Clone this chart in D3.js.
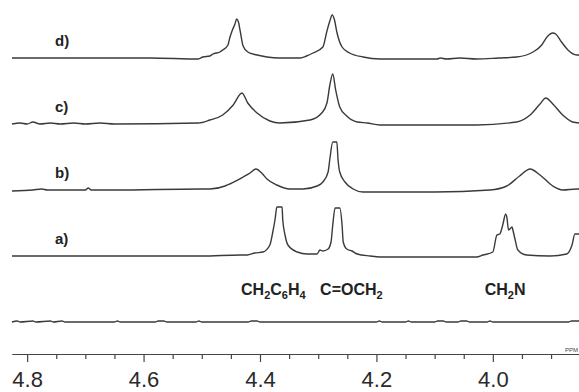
<!DOCTYPE html>
<html>
<head>
<meta charset="utf-8">
<script src="https://cdn.jsdelivr.net/npm/d3@7"></script>
<style>
  html, body { margin: 0; padding: 0; background: #fff; }
  svg { display: block; font-family: "Liberation Sans", Arial, sans-serif; }
  .trace { fill: none; stroke: #3a3a3a; stroke-width: 1.4; stroke-linejoin: round; }
  .axis path, .axis line { stroke: #444; stroke-width: 1.2; }
  .axis text { fill: #2a2a2a; font-size: 22px; }
  .tag { font-weight: bold; font-size: 15px; fill: #222; }
  .assign { font-weight: bold; font-size: 16px; fill: #222; }
</style>
</head>
<body>
<svg id="chart"></svg>
<script>
// stacked 1H NMR traces, [ppm, intensity] pairs
const specBlank = [[4.826,0],[4.817,1],[4.812,0],[4.790,1],[4.785,0],[4.760,1],[4.755,0],[4.740,1],[4.735,0],
  [4.650,0],[4.645,1],[4.640,0],[4.580,0],[4.575,1],[4.565,1],[4.560,0],[4.510,0],[4.505,1],[4.500,0],
  [4.420,0],[4.415,1],[4.405,1],[4.400,0],[4.200,0],[4.195,1],[4.190,0],[4.150,0],[4.145,1],[4.140,0],
  [4.100,0],[4.095,1],[4.085,1],[4.080,0],[4.060,0],[4.055,1],[4.045,1],[4.040,0],[4.010,0],[4.005,1],
  [4.000,0],[3.870,0],[3.865,1],[3.852,1]];

const specA = [[4.826,0],[4.700,0],[4.500,0],[4.434,1],[4.422,1],[4.409,3],[4.395,4],[4.383,11],[4.378,24],
  [4.374,37],[4.371,49],[4.362,49],[4.361,37],[4.357,21],[4.352,11],[4.336,4],[4.319,2],[4.302,2],[4.297,6],
  [4.292,5],[4.283,7],[4.278,14],[4.275,31],[4.271,48],[4.263,48],[4.259,31],[4.257,14],[4.251,7],[4.242,5],
  [4.233,2],[4.211,0],[4.194,-1],[4.028,-1],[4.017,1],[4.000,4],[3.993,21],[3.988,22],[3.983,31],[3.978,42],
  [3.976,39],[3.973,26],[3.967,29],[3.966,27],[3.962,17],[3.957,6],[3.942,1],[3.902,0],[3.873,2],[3.864,11],
  [3.859,22],[3.852,22]];

const specB = [[4.826,-1],[4.790,0],[4.775,1],[4.765,0],[4.700,0],[4.695,2],[4.690,0],[4.650,0],[4.503,1],
  [4.486,1],[4.460,4],[4.452,6],[4.429,13],[4.417,17],[4.407,21],[4.397,17],[4.388,11],[4.371,5],[4.349,1],
  [4.326,1],[4.302,4],[4.292,8],[4.283,18],[4.280,31],[4.275,48],[4.268,48],[4.266,31],[4.263,18],[4.254,8],
  [4.240,1],[4.223,-2],[4.194,-2],[4.100,-2],[4.005,0],[3.976,4],[3.954,14],[3.936,21],[3.919,15],[3.897,4],
  [3.880,0],[3.856,1],[3.852,1]];

const specC = [[4.826,0],[4.812,1],[4.800,0],[4.790,2],[4.778,0],[4.760,1],[4.743,0],[4.720,1],[4.700,0],
  [4.675,1],[4.650,0],[4.506,1],[4.486,4],[4.464,9],[4.446,19],[4.431,31],[4.421,21],[4.405,11],[4.383,3],
  [4.366,1],[4.314,4],[4.294,11],[4.285,21],[4.280,39],[4.275,50],[4.270,34],[4.263,17],[4.251,8],[4.233,2],
  [4.216,1],[4.194,-1],[4.100,-1],[4.028,-1],[3.959,2],[3.936,9],[3.919,20],[3.909,26],[3.897,20],[3.880,9],
  [3.863,2],[3.852,1]];

const specD = [[4.826,0],[4.743,0],[4.650,0],[4.589,0],[4.506,-1],[4.498,1],[4.486,2],[4.481,4],[4.469,6],
  [4.464,8],[4.455,13],[4.452,20],[4.448,27],[4.443,34],[4.440,39],[4.437,36],[4.434,27],[4.429,12],[4.421,6],
  [4.405,3],[4.388,1],[4.366,0],[4.331,0],[4.320,2],[4.309,5],[4.292,11],[4.285,27],[4.280,37],[4.276,43],
  [4.272,38],[4.268,26],[4.259,11],[4.246,5],[4.223,1],[4.194,-1],[4.096,-1],[4.090,0],[4.080,-1],[4.057,0],
  [4.028,-1],[3.990,0],[3.959,1],[3.931,6],[3.916,13],[3.907,21],[3.897,25],[3.892,24],[3.882,16],[3.871,8],
  [3.856,3],[3.852,3]];

const traceNames = ["blank", "a)", "b)", "c)", "d)"];
const traces = [specBlank, specA, specB, specC, specD];

const majorTicks = [4.8, 4.6, 4.4, 4.2, 4.0];
const minorTicks = [4.75, 4.7, 4.65, 4.55, 4.5, 4.45, 4.35, 4.3, 4.25, 4.15, 4.1, 4.05, 3.95, 3.9, 3.85];

// peak assignments: [label parts, ppm]
const assignments = [
  { parts: [["CH", 0], ["2", 1], ["C", 0], ["6", 1], ["H", 0], ["4", 1]], ppm: 4.377 },
  { parts: [["C=OCH", 0], ["2", 1]], ppm: 4.243 },
  { parts: [["CH", 0], ["2", 1], ["N", 0]], ppm: 3.979 }
];

const width = 579, height = 392;
const svg = d3.select("#chart").attr("width", width).attr("height", height);

const x = d3.scaleLinear().domain([4.826, 3.852]).range([12, 579]);
const y = d3.scaleLinear().domain([0, 50]).range([0, -50]);
const stack = d3.scalePoint().domain(traceNames).range([322, 58]);

const line = d3.line().x(d => x(d[0])).y(d => y(d[1])).curve(d3.curveMonotoneX);

traces.forEach((spec, i) => {
  const g = svg.append("g").attr("transform", `translate(0,${stack(traceNames[i])})`);
  g.append("path").datum(spec).attr("class", "trace").attr("d", line);
  if (traceNames[i] !== "blank") {
    g.append("text").attr("class", "tag").attr("x", 55).attr("y", -12).text(traceNames[i]);
  }
});

// assignments
assignments.forEach(a => {
  const t = svg.append("text").attr("class", "assign")
    .attr("x", x(a.ppm)).attr("y", 295).attr("text-anchor", "middle");
  let shifted = false;
  a.parts.forEach(([s, sub]) => {
    const ts = t.append("tspan").text(s);
    if (sub && !shifted) { ts.attr("dy", 4).style("font-size", "11px"); shifted = true; }
    else if (!sub && shifted) { ts.attr("dy", -4); shifted = false; }
    else if (sub) ts.style("font-size", "11px");
  });
});

// axis
const axisY = 354;
svg.append("g").attr("class", "axis")
  .attr("transform", `translate(0,${axisY})`)
  .call(d3.axisBottom(x).tickValues(minorTicks).tickSize(5).tickSizeOuter(0).tickFormat(""));
svg.append("g").attr("class", "axis")
  .attr("transform", `translate(0,${axisY})`)
  .call(d3.axisBottom(x).tickValues(majorTicks).tickSize(8).tickSizeOuter(0).tickPadding(9)
    .tickFormat(d3.format(".1f")));

svg.append("text").attr("x", 578).attr("y", 352).attr("text-anchor", "end")
  .style("font-size", "6px").style("fill", "#444").text("PPM");
</script>
</body>
</html>
